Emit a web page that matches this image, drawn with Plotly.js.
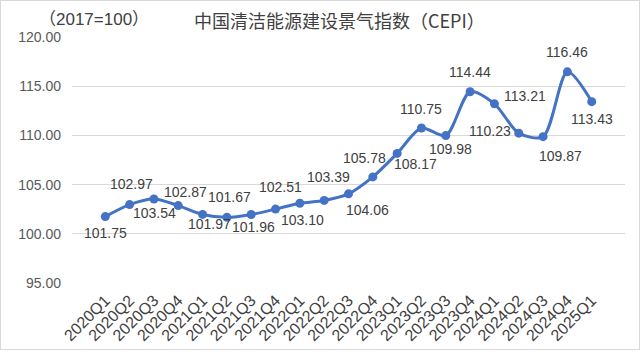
<!DOCTYPE html>
<html>
<head>
<meta charset="utf-8">
<script src="https://cdn.plot.ly/plotly-3.0.1.min.js"></script>
<style>
html,body{margin:0;padding:0;background:#fff;}
#wrap{position:relative;width:641px;height:354px;}
#chart{width:641px;height:354px;}
#frame{position:absolute;left:0;top:0;width:638px;height:348px;border:1px solid #d9d9d9;pointer-events:none;}
</style>
</head>
<body>
<div id="wrap"><div id="chart"></div><div id="frame"></div></div>
<script>
const quarters = ["2020Q1","2020Q2","2020Q3","2020Q4","2021Q1","2021Q2","2021Q3","2021Q4",
  "2022Q1","2022Q2","2022Q3","2022Q4","2023Q1","2023Q2","2023Q3","2023Q4",
  "2024Q1","2024Q2","2024Q3","2024Q4","2025Q1"];
const cepi = [101.75,102.97,103.54,102.87,101.97,101.67,101.96,102.51,
  103.10,103.39,104.06,105.78,108.17,110.75,109.98,114.44,
  113.21,110.23,109.87,116.46,113.43];
const yTicks = [95,100,105,110,115,120];

// label placement (pixel offsets: dx right, dy down) – style only
const labelOffsets = [[0,16],[2,-21],[1,14],[7,-14],[7,10],[3,-20],[2,12],[5,-22],
  [3,17],[4,-23],[19,16],[-8,-19],[18,11],[0,-19],[5,13],[0,-20],
  [31,-8],[-29,-2],[17,19],[0,-20],[0,17]];

const textFont = {family:"Liberation Sans, Arial, sans-serif", size:14, color:"#404040"};

const annotations = cepi.map((v,i)=>({
  x: quarters[i], y: v, xref:"x", yref:"y",
  text: v.toFixed(2), showarrow:false,
  xshift: labelOffsets[i][0], yshift: -labelOffsets[i][1],
  font: textFont
}));
annotations.push({
  xref:"paper", yref:"paper", x:-0.063, y:1.07, xanchor:"left", yanchor:"middle",
  text:"（2017=100）", showarrow:false,
  font:{family:"Liberation Sans, Noto Sans CJK SC, sans-serif", size:17, color:"#404040"}
});
annotations.push({
  xref:"paper", yref:"paper", x:0.217, y:1.07, xanchor:"left", yanchor:"middle",
  text:"中国清洁能源建设景气指数（CEPI）", showarrow:false,
  font:{family:"Noto Sans CJK SC, sans-serif", size:18, color:"#404040"}
});

const trace = {
  x: quarters, y: cepi, type:"scatter", mode:"lines+markers",
  line:{color:"#4472C4", width:3, shape:"spline", smoothing:0.8},
  marker:{color:"#4472C4", size:9},
  hoverinfo:"x+y"
};

const layout = {
  width:641, height:354,
  margin:{l:72, r:16, t:37, b:71},
  paper_bgcolor:"#fff", plot_bgcolor:"#fff",
  showlegend:false,
  xaxis:{type:"category", tickangle:-45, showgrid:false, zeroline:false, showline:false,
    ticks:"", ticklabelstandoff:4,
    tickfont:{family:"Liberation Sans, Arial, sans-serif", size:16, color:"#404040"}},
  yaxis:{range:[95,120], tickvals:yTicks, ticktext:yTicks.map(v=>v.toFixed(2)),
    showgrid:true, gridcolor:"#d9d9d9", gridwidth:1, zeroline:false, showline:false, ticks:"",
    ticklabelstandoff:10,
    tickfont:{family:"Liberation Sans, Arial, sans-serif", size:14, color:"#595959"}},
  annotations: annotations
};

Plotly.newPlot("chart", [trace], layout, {displayModeBar:false, staticPlot:true});
</script>
</body>
</html>
